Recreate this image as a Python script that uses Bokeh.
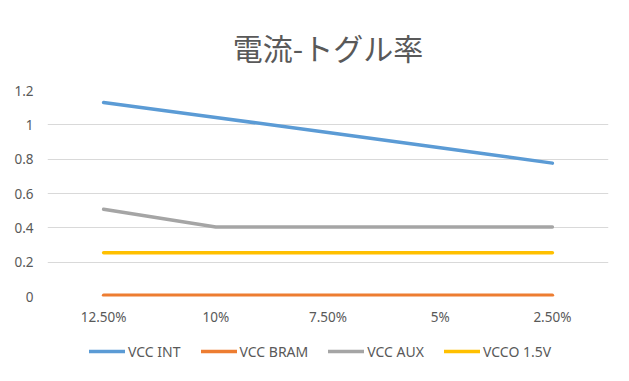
from bokeh.plotting import figure
from bokeh.models import Range1d, FactorRange, Legend, LegendItem, FixedTicker
from bokeh.layouts import column
from bokeh.embed import file_html
from bokeh.resources import INLINE

categories = ["12.50%", "10%", "7.50%", "5%", "2.50%"]
vcc_int = [1.13, 1.043, 0.955, 0.866, 0.777]
vcc_bram = [0.007, 0.007, 0.007, 0.007, 0.007]
vcc_aux = [0.508, 0.405, 0.405, 0.405, 0.405]
vcco_15 = [0.255, 0.255, 0.255, 0.255, 0.255]
series_names = ["VCC INT", "VCC BRAM", "VCC AUX", "VCCO 1.5V"]
y_ticks = [0, 0.2, 0.4, 0.6, 0.8, 1.0, 1.2]
y_tick_labels = {0: "0", 0.2: "0.2", 0.4: "0.4", 0.6: "0.6", 0.8: "0.8", 1.0: "1", 1.2: "1.2"}

colors = ["#5B9BD5", "#ED7D31", "#A5A5A5", "#FFC000"]
text_color = "#595959"
font = "Noto Sans"
series = [vcc_int, vcc_bram, vcc_aux, vcco_15]

p = figure(width=629, height=335, x_range=FactorRange(*categories, range_padding=0),
           y_range=Range1d(0, 1.2), output_backend="svg", toolbar_location=None,
           min_border_left=47, min_border_right=21, min_border_top=88, min_border_bottom=39,
           title="電流-トグル率")
p.title.text_font = "Noto Sans CJK JP"
p.title.text_font_size = "30px"
p.title.text_font_style = "normal"
p.title.text_color = text_color
p.title.align = "center"
p.title.standoff = 44

p.outline_line_color = None
p.background_fill_color = "white"
p.border_fill_color = "white"

p.xgrid.grid_line_color = None
p.ygrid.grid_line_color = "#D9D9D9"
p.ygrid.grid_line_width = 1
p.yaxis.ticker = FixedTicker(ticks=y_ticks)
p.yaxis.major_label_overrides = y_tick_labels

for ax in (p.xaxis[0], p.yaxis[0]):
    ax.axis_line_color = None
    ax.major_tick_line_color = None
    ax.minor_tick_line_color = None
    ax.major_tick_out = 0
    ax.major_tick_in = 0
    ax.major_label_text_font = font
    ax.major_label_text_font_size = "13.5px"
    ax.major_label_text_color = text_color
p.yaxis.major_label_standoff = 14
p.xaxis.major_label_standoff = 11

for vals, col in zip(series, colors):
    p.line(categories, vals, line_color=col, line_width=3.5, line_cap="round", line_join="round")

# legend strip (lines drawn off-view, only their legend glyphs are visible)
lg = figure(width=629, height=46, x_range=FactorRange(*categories, range_padding=0),
            y_range=Range1d(10, 11), output_backend="svg", toolbar_location=None,
            min_border_left=0, min_border_right=0, min_border_top=0, min_border_bottom=0)
lg.axis.visible = False
lg.grid.visible = False
lg.outline_line_color = None
lg.border_fill_color = "white"
items = []
for name, vals, col in zip(series_names, series, colors):
    r = lg.line(categories, vals, line_color=col, line_width=3.5, line_cap="round")
    items.append(LegendItem(label=name, renderers=[r]))
legend = Legend(items=items, orientation="horizontal", location=(42, 20),
                label_text_font=font, label_text_font_size="14px", label_text_color=text_color,
                glyph_width=36, glyph_height=20, label_standoff=3, spacing=20,
                border_line_color=None, background_fill_alpha=0, margin=0, padding=0)
lg.add_layout(legend, "center")

layout = column(p, lg, spacing=0)
open("out.html", "w").write(file_html(layout, INLINE))
